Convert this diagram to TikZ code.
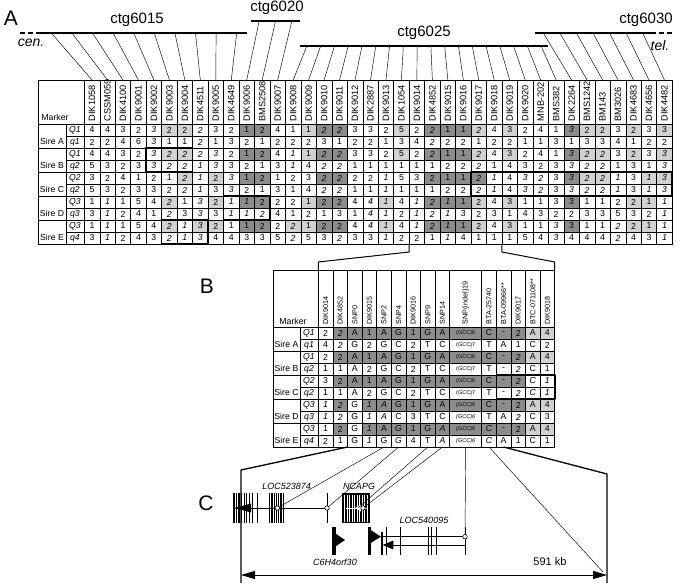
\documentclass[tikz,border=0pt]{standalone}
\usepackage{fontspec}
\setmainfont{Liberation Sans}
\usetikzlibrary{arrows.meta}

\definecolor{shadelt}{gray}{0.82}
\definecolor{shadedk}{gray}{0.55}

\newcommand\cellfont{\fontsize{8.7}{9}\selectfont}
\newcommand\hdrfont{\fontsize{9.2}{9}\selectfont}
\newcommand\hdrfontB{\fontsize{7.2}{8}\selectfont}
\newcommand\gcc[1]{{\fontsize{5.5}{6}\selectfont(GCC)#1}}

\tikzset{
  cellA/.style={minimum width=15.47pt,minimum height=12pt,inner sep=0pt,outer sep=0pt,font=\cellfont},
  cellB/.style={minimum height=12pt,inner sep=0pt,outer sep=0pt,font=\cellfont},
  nn/.style={},
  ni/.style={font=\cellfont\itshape},
  ln/.style={fill=shadelt},
  li/.style={fill=shadelt,font=\cellfont\itshape},
  dn/.style={fill=shadedk},
  di/.style={fill=shadedk,font=\cellfont\itshape},
  hdr/.style={rotate=90,anchor=west,inner sep=0pt,font=\hdrfont},
  hdrB/.style={rotate=90,anchor=west,inner sep=0pt,font=\hdrfontB},
  rowlab/.style={inner sep=0pt,font=\cellfont},
  qlab/.style={inner sep=0pt,font=\cellfont\itshape},
  grid/.style={line width=0.45pt},
  boldbox/.style={line width=1.6pt},
  contig/.style={line width=1.3pt},
  fan/.style={line width=0.45pt},
  zoomline/.style={line width=1pt},
  bound/.style={line width=1.3pt},
  snpline/.style={line width=0.45pt},
  exon/.style={line width=0.9pt},
  panel/.style={font=\fontsize{21}{21}\selectfont,inner sep=0pt},
  ctglab/.style={font=\fontsize{15}{15}\selectfont,inner sep=0pt},
  endlab/.style={font=\fontsize{14}{14}\selectfont\itshape,inner sep=0pt},
  genelab/.style={font=\fontsize{9}{9}\selectfont\itshape,inner sep=0pt},
  snp/.style={circle,draw,fill=white,inner sep=0pt,minimum size=4.5pt,line width=0.6pt},
}

\begin{document}
\begin{tikzpicture}[x=1pt,y=-1pt,line join=round]
\useasboundingbox (0,0) rectangle (685,583);
\pgfmathsetmacro\xA{84.3}
\pgfmathsetmacro\wA{15.47}
\pgfmathsetmacro\yA{124}
\pgfmathsetmacro\xB{318.3}
\pgfmathsetmacro\wB{14.6}
\pgfmathsetmacro\yB{327}

% panel letters
\node[panel] (labA) at (11,18) {A};
\node[panel] (labB) at (207,286) {B};
\node[panel] (labC) at (206,503) {C};

% contigs
\draw[contig,dash pattern=on 5pt off 3pt] (20,33) -- (41,33);
\draw[contig] (41,33) coordinate (c15a) -- (247,33) coordinate (c15b);
\draw[contig] (251,21) coordinate (c20a) -- (300,21) coordinate (c20b);
\draw[contig] (300,46) coordinate (c25a) -- (548,46) coordinate (c25b);
\draw[contig] (535,33) coordinate (c30a) -- (651,33) coordinate (c30b);
\draw[contig,dash pattern=on 5pt off 3pt] (651,33) -- (672,33);
\node[ctglab] (t15) at (137,20) {ctg6015};
\node[ctglab] (t20) at (277,8) {ctg6020};
\node[ctglab] (t25) at (424,33) {ctg6025};
\node[ctglab] (t30) at (646,20) {ctg6030};
\node[endlab] (cen) at (31,43) {cen.};
\node[endlab] (tel) at (660,45) {tel.};

% table A header
\foreach \m [count=\c] in {DIK1058,CSSM059,DIK4100,DIK9001,DIK9002,DIK9003,DIK9004,DIK4511,DIK9005,DIK4649,DIK9006,BMS2508,DIK9007,DIK9008,DIK9009,DIK9010,DIK9011,DIK9012,DIK2887,DIK9013,DIK1054,DIK9014,DIK4852,DIK9015,DIK9016,DIK9017,DIK9018,DIK9019,DIK9020,MNB-202,BMS382,DIK2264,BMS1242,BM143,BM3026,DIK4683,DIK4656,DIK4482}{
  \node[hdr] (hA-\c) at ({\xA+(\c-0.5)*\wA},121.5) {\m};
  \coordinate (colA-\c) at ({\xA+(\c-0.5)*\wA},80);
}
% fans from contigs
\foreach \c in {1,...,10} \draw[fan] ({41+(\c-0.5)*206/10},33) -- (colA-\c);
\foreach \c in {11,...,13} \draw[fan] ({251+(\c-10.5)*49/3},21) -- (colA-\c);
\foreach \c in {14,...,31} \draw[fan] ({300+(\c-13.5)*248/18},46) -- (colA-\c);
\foreach \c in {32,...,38} \draw[fan] ({535+(\c-31.5)*116/7},33) -- (colA-\c);

% table A cells
\foreach \row [count=\r] in {
{4/nn,4/nn,3/nn,2/nn,3/ni,2/ln,2/ln,2/ni,3/nn,2/nn,1/dn,2/dn,4/nn,1/nn,1/ln,2/di,2/di,3/nn,3/nn,2/nn,5/ln,2/nn,2/di,1/dn,1/dn,2/li,4/nn,3/ln,2/nn,4/nn,1/nn,3/di,2/ln,2/ln,3/nn,2/ln,3/nn,3/ln},
{2/nn,2/nn,4/nn,6/nn,3/ni,1/nn,1/nn,2/ni,1/nn,3/nn,2/nn,1/nn,2/nn,2/nn,2/nn,3/nn,1/nn,2/nn,2/nn,1/nn,3/nn,4/nn,2/ni,2/nn,2/nn,1/nn,2/nn,2/nn,1/nn,1/nn,3/nn,1/nn,3/nn,3/nn,4/nn,1/nn,2/nn,2/nn},
{4/nn,4/nn,3/nn,2/nn,3/ni,2/li,2/li,2/ni,3/ni,2/nn,1/dn,2/dn,4/nn,1/ni,1/ln,2/di,2/di,3/nn,3/nn,2/nn,5/ln,2/nn,2/di,1/dn,1/dn,2/li,4/nn,3/ln,2/nn,4/nn,1/nn,3/di,2/li,2/li,3/nn,2/ln,3/nn,3/li},
{5/nn,3/nn,2/nn,3/nn,3/ni,2/ni,2/ni,1/ni,3/ni,3/nn,2/nn,1/nn,3/nn,1/ni,4/nn,2/ni,2/ni,1/nn,1/nn,1/nn,1/nn,1/nn,1/nn,2/nn,2/nn,2/ni,1/nn,4/nn,3/nn,2/nn,3/nn,3/ni,2/ni,2/ni,1/nn,3/nn,1/nn,3/ni},
{3/nn,2/nn,4/nn,1/nn,2/nn,1/nn,2/li,1/ni,2/ln,3/ni,1/dn,2/dn,1/nn,2/nn,3/nn,2/di,2/di,2/nn,2/nn,1/ni,5/nn,3/nn,2/dn,1/dn,1/dn,2/di,1/ni,4/nn,3/ni,2/ni,3/nn,3/di,2/li,2/li,1/ni,3/nn,1/li,3/li},
{5/nn,3/nn,2/nn,3/nn,3/nn,2/nn,2/ni,1/ni,3/nn,3/ni,2/nn,1/nn,3/nn,1/nn,4/nn,2/ni,2/ni,1/nn,1/nn,1/ni,1/nn,1/nn,1/nn,2/nn,2/nn,2/ni,1/ni,4/nn,3/ni,2/ni,3/nn,3/ni,2/ni,2/ni,1/ni,3/nn,1/ni,3/ni},
{1/nn,1/ni,1/nn,5/nn,4/nn,2/li,1/nn,3/ni,2/ln,1/ni,1/di,2/dn,2/nn,2/nn,1/ln,2/dn,2/dn,4/nn,4/ni,1/li,4/nn,1/ni,2/di,1/di,1/dn,2/ln,4/nn,3/ln,1/nn,1/nn,3/nn,3/dn,1/nn,1/nn,2/nn,2/ln,1/ln,1/ni},
{3/nn,1/ni,2/nn,4/nn,1/nn,2/ni,3/nn,3/ni,3/nn,1/ni,1/ni,2/ni,4/nn,1/nn,2/nn,1/nn,3/nn,1/nn,4/ni,1/ni,2/nn,1/ni,2/ni,1/ni,3/nn,2/nn,3/nn,1/nn,4/nn,3/nn,2/nn,2/nn,3/nn,3/nn,5/nn,3/nn,2/nn,1/ni},
{1/nn,1/ni,1/nn,5/nn,4/nn,2/li,1/ni,3/li,2/ln,1/nn,1/dn,2/dn,2/nn,2/li,1/ln,2/dn,2/dn,4/nn,4/ni,1/li,4/nn,1/ni,2/di,1/di,1/dn,2/ln,4/nn,3/ln,1/nn,1/nn,3/ni,3/dn,1/nn,1/nn,2/ni,2/ln,1/ln,1/ni},
{3/nn,1/ni,2/nn,4/nn,3/nn,2/ni,1/ni,3/ni,4/nn,4/nn,3/nn,3/nn,5/nn,2/ni,5/nn,3/nn,2/ni,3/nn,3/nn,1/ni,2/nn,2/nn,1/nn,1/ni,4/nn,1/nn,1/nn,1/nn,5/nn,4/nn,3/ni,4/nn,4/nn,4/nn,2/ni,4/nn,3/nn,1/ni}}{
  \foreach \v/\s [count=\c] in \row {
    \node[cellA,\s] (A-\r-\c) at ({\xA+(\c-0.5)*\wA},{\yA+(\r-0.5)*12}) {\v};
  }
}
% table A grid
\draw[grid] (38,80) rectangle ({\xA+38*\wA},244);
\foreach \c in {0,...,37} \draw[grid] ({\xA+\c*\wA},80) -- ({\xA+\c*\wA},244);
\draw[grid] (66,\yA) -- (66,244);
\draw[grid] (38,\yA) -- ({\xA+38*\wA},\yA);
\foreach \r in {2,4,6,8} \draw[grid] (38,{\yA+\r*12}) -- ({\xA+38*\wA},{\yA+\r*12});
\foreach \r in {1,3,5,7,9} \draw[grid] (66,{\yA+\r*12}) -- ({\xA+38*\wA},{\yA+\r*12});
\node[rowlab] (mkA) at (55,117) {Marker};
\foreach \s/\q/\p [count=\k] in {A/Q1/q1,B/Q1/q2,C/Q2/q2,D/Q3/q3,E/Q3/q4}{
  \node[rowlab] (sA-\k) at (52,{\yA+(2*\k-0.5)*12-1}) {Sire \s};
  \node[qlab] (QA-\k) at (75,{\yA+(2*\k-1.5)*12}) {\q};
  \node[qlab] (qA-\k) at (75,{\yA+(2*\k-0.5)*12}) {\p};
}
% haplotype boxes
\draw[boldbox] (A-3-5.north west) rectangle (A-4-7.south east);
\draw[boldbox] (A-5-26.north west) rectangle (A-6-38.south east);
\draw[boldbox] (A-7-10.north west) rectangle (A-8-12.south east);
\draw[boldbox] (A-9-6.north west) rectangle (A-10-8.south east);

% table B header
\foreach \m [count=\c] in {DIK9014,DIK4852,SNP0,DIK9015,SNP2,SNP4,DIK9016,SNP9,SNP14,SNP(indel)19,BTA-25740,BTA-09966**,DIK9017,BTC-071108**,DIK9018}{
  \pgfmathsetmacro\cx{\c<10 ? \xB+(\c-0.5)*\wB : (\c==10 ? \xB+9*\wB+16 : \xB+9*\wB+32+(\c-10.5)*\wB)}
  \node[hdrB] (hB-\c) at (\cx,324.5) {\m};
}
% table B cells
\foreach \row [count=\r] in {
{2/nn,2/di,A/dn,1/dn,A/dn,G/dn,1/dn,G/dn,A/dn,\gcc6/dn,C/dn,-/dn,2/dn,A/ln,4/ln},
{4/nn,2/ni,G/nn,2/nn,G/nn,C/nn,2/nn,T/nn,C/nn,\gcc7/nn,T/nn,A/nn,1/nn,C/nn,2/nn},
{2/nn,2/dn,A/dn,1/dn,A/dn,G/dn,1/dn,G/dn,A/dn,\gcc6/dn,C/dn,-/dn,2/di,A/ln,4/ln},
{1/nn,1/nn,A/nn,2/nn,G/nn,C/nn,2/nn,T/nn,C/nn,\gcc7/nn,T/nn,-/nn,2/ni,C/nn,1/nn},
{3/nn,2/dn,A/dn,1/dn,A/dn,G/dn,1/dn,G/dn,A/dn,\gcc6/dn,C/dn,-/dn,2/di,C/ni,1/ni},
{1/nn,1/nn,A/nn,2/nn,G/nn,C/nn,2/nn,T/nn,C/nn,\gcc7/nn,T/nn,-/nn,2/ni,C/ni,1/ni},
{1/ni,2/di,G/nn,1/di,A/di,G/dn,1/dn,G/dn,A/dn,\gcc6/di,C/dn,-/dn,2/dn,A/ln,4/ln},
{1/ni,2/ni,G/nn,1/ni,A/ni,C/nn,3/nn,T/nn,C/nn,\gcc6/ni,T/nn,A/nn,2/ni,C/nn,3/nn},
{1/nn,2/dn,G/nn,1/di,A/dn,G/di,1/dn,G/dn,A/di,\gcc6/di,C/di,-/dn,2/dn,A/ln,4/ln},
{2/nn,1/nn,G/nn,1/ni,G/nn,G/ni,4/nn,T/nn,A/ni,\gcc6/ni,C/ni,A/nn,1/nn,C/nn,1/nn}}{
  \foreach \v/\s [count=\c] in \row {
    \pgfmathsetmacro\cx{\c<10 ? \xB+(\c-0.5)*\wB : (\c==10 ? \xB+9*\wB+16 : \xB+9*\wB+32+(\c-10.5)*\wB)}
    \pgfmathsetmacro\cw{\c==10 ? 32 : \wB}
    \node[cellB,minimum width=\cw pt,\s] (B-\r-\c) at (\cx,{\yB+(\r-0.5)*12}) {\v};
  }
}
% table B grid
\draw[grid] (273.3,270) rectangle (554.7,447);
\foreach \xx in {318.3,332.9,347.5,362.1,376.7,391.3,405.9,420.5,435.1,449.7,481.7,496.3,510.9,525.5,540.1}
  \draw[grid] (\xx,270) -- (\xx,447);
\draw[grid] (300,\yB) -- (300,447);
\draw[grid] (273.3,\yB) -- (554.7,\yB);
\foreach \r in {2,4,6,8} \draw[grid] (273.3,{\yB+\r*12}) -- (554.7,{\yB+\r*12});
\foreach \r in {1,3,5,7,9} \draw[grid] (300,{\yB+\r*12}) -- (554.7,{\yB+\r*12});
\node[rowlab] (mkB) at (293,321) {Marker};
\foreach \s/\q/\p [count=\k] in {A/Q1/q1,B/Q1/q2,C/Q2/q2,D/Q3/q3,E/Q3/q4}{
  \node[rowlab] (sB-\k) at (286.5,{\yB+(2*\k-0.5)*12-1}) {Sire \s};
  \node[qlab] (QB-\k) at (309,{\yB+(2*\k-1.5)*12}) {\q};
  \node[qlab] (qB-\k) at (309,{\yB+(2*\k-0.5)*12}) {\p};
}
\draw[boldbox] (B-5-12.north west) rectangle (B-6-15.south east);

% zoom from A to B
\draw[zoomline] (A-10-22.south west) -- ++(0,8) -- (318.3,262) -- (318.3,270);
\draw[zoomline] (A-10-27.south east) -- ++(0,8) -- (554.7,262) -- (554.7,270);

% panel C: genes
\coordinate (lb) at (241,470);
\coordinate (rb) at (607,474);
\draw[exon] (233,508) -- (327,508);
\foreach \xx in {233,234.7,236.4,238.1,239.8,241.5,244.9,246.6,249,252.5,257}
  \draw[exon] (\xx,493) -- (\xx,523);
\fill (235,508) -- (251,503.5) -- (251,512.5) -- cycle;
\foreach \xx in {269.5,271.2,272.9,274.6,276.3,278.3,280,281.7,283.4}
  \draw[exon] (\xx,493) -- (\xx,523);
\draw[exon] (327,493) -- (327,523);
\node[snp] (s523) at (277.3,508) {};
\node[snp] (s327) at (327,508) {};
% NCAPG
\fill (342.3,493.3) rectangle (370,523.3);
\foreach \xx in {344.5,347,349.5,352,354.5,357,359.5,362,364.5,367}
  \draw[white,line width=0.3pt] (\xx,494.5) -- (\xx,522);
\draw[white,line width=1pt] (346,508) -- (368,508);
\fill[white] (355,508) -- (361,504.5) -- (361,511.5) -- cycle;
\node[snp] (sncap) at (363,508) {};
\coordinate (sncap2) at (358,508);
% C6H4orf30
\fill (331.7,527) rectangle (336.2,555);
\fill (336.2,534) -- (345,540) -- (336.2,546) -- cycle;
% LOC540095
\fill (368,527) rectangle (370.6,555);
\fill (370.6,530) -- (381,536.7) -- (370.6,543) -- cycle;
\fill (380.8,532) rectangle (382.6,555);
\fill (382.6,545) -- (393.3,540.5) -- (393.3,549.5) -- cycle;
\draw[exon,line width=0.7pt] (382,536.7) -- (465,536.7);
\draw[exon,line width=0.7pt] (393,545) -- (465,545);
\foreach \xx in {386.7,400,428.3,431.7,436.7,465}
  \draw[exon,line width=0.7pt] (\xx,527) -- (\xx,555);
\node[snp] (s540) at (465,536.7) {};
% gene labels
\node[genelab] (g1) at (286.7,486) {LOC523874};
\node[genelab] (g2) at (359,486) {NCAPG};
\node[genelab] (g3) at (424,520) {LOC540095};
\node[genelab] (g4) at (335,562) {C6H4orf30};

% region borders and SNP links
\draw[bound] (B-10-3.south west) -- (lb) -- (241,583);
\draw[bound] (B-10-12.south) -- (rb) -- (607,583);
\coordinate (arrR) at (603,572);
\draw[snpline] (B-10-5.south) -- (s523);
\draw[snpline] (B-10-6.south) -- (s327);
\draw[snpline] (B-10-8.south) -- (sncap2);
\draw[snpline] (B-10-9.south) -- (sncap);
\draw[snpline] (B-10-10.south) -- (s540);
\draw[snpline] (B-10-11.south) -- (arrR);

% size bar
\draw[line width=1pt,{Triangle[length=14pt,width=8pt]}-{Triangle[length=14pt,width=8pt]}] (241,575) -- (607,575);
\node[font=\fontsize{11}{11}\selectfont,inner sep=0pt] (kb) at (550,562) {591 kb};
\end{tikzpicture}
\end{document}
